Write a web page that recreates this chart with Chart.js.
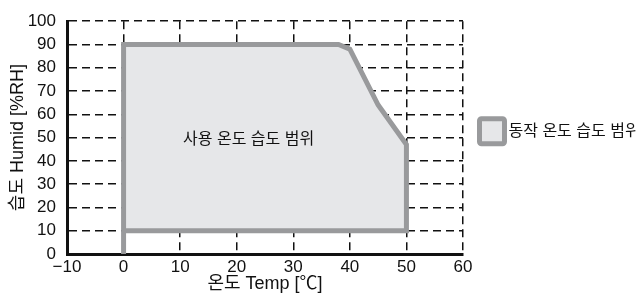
<!DOCTYPE html>
<html>
<head>
<meta charset="utf-8">
<script src="https://cdn.jsdelivr.net/npm/chart.js@4/dist/chart.umd.min.js"></script>
<style>
html,body{margin:0;padding:0;background:#fff;}
#wrap{width:636px;height:295px;position:relative;}
</style>
</head>
<body>
<div id="wrap"><canvas id="c" width="636" height="295"></canvas></div>
<script>
// Outline of the operating range (temperature °C, humidity %RH)
const outlineTemp  = [0, 0, 38, 40, 45, 50, 50, 0];
const outlineHumid = [0, 90, 90, 88, 64, 47, 10, 10];
// Upper boundary of the filled area (filled down to 10 %RH)
const fillTemp  = [0, 38, 40, 45, 50];
const fillHumid = [90, 90, 88, 64, 47];
const fillBase = 10;
// Axes
const xTicks = [-10, 0, 10, 20, 30, 40, 50, 60];
const yTicks = [0, 10, 20, 30, 40, 50, 60, 70, 80, 90, 100];
const xTitle = '온도 Temp [℃]';
const yTitle = '습도 Humid [%RH]';
const areaLabel = '사용 온도 습도 범위';
const legendLabel = '동작 온도 습도 범위';

const FONT = "'Liberation Sans', 'Noto Sans CJK KR', sans-serif";
const TEXT = '#111';
const BORDER_GRAY = '#999a9c';
const FILL_GRAY = '#e6e7e9';

const toPts = (xs, ys) => xs.map((x, i) => ({x, y: ys[i]}));

const overlay = {
  id: 'overlay',
  afterDatasetsDraw(chart) {
    const {ctx, chartArea, scales} = chart;
    ctx.save();
    // area label
    ctx.font = "16px " + FONT;
    ctx.fillStyle = TEXT;
    ctx.textAlign = 'center';
    ctx.textBaseline = 'middle';
    ctx.fillText(areaLabel, scales.x.getPixelForValue(22.1), scales.y.getPixelForValue(49.3));
    // legend
    const bx = chartArea.right + 16.5, by = chartArea.top + 97.5, bs = 25;
    ctx.fillStyle = FILL_GRAY;
    ctx.strokeStyle = BORDER_GRAY;
    ctx.lineWidth = 5;
    ctx.beginPath();
    if (ctx.roundRect) ctx.roundRect(bx, by, bs, bs, 2); else ctx.rect(bx, by, bs, bs);
    ctx.fill();
    ctx.stroke();
    ctx.font = "16px " + FONT;
    ctx.fillStyle = TEXT;
    ctx.textAlign = 'left';
    ctx.fillText(legendLabel, bx + bs + 4, by + bs / 2);
    ctx.restore();
  }
};

new Chart(document.getElementById('c'), {
  type: 'line',
  data: {
    datasets: [
      {
        label: 'outline',
        data: toPts(outlineTemp, outlineHumid),
        borderColor: BORDER_GRAY,
        borderWidth: 5,
        pointRadius: 0,
        fill: false,
        tension: 0,
        order: 0
      },
      {
        label: 'area',
        data: toPts(fillTemp, fillHumid),
        borderWidth: 0,
        borderColor: 'rgba(0,0,0,0)',
        backgroundColor: FILL_GRAY,
        pointRadius: 0,
        fill: {value: fillBase},
        tension: 0,
        order: 1
      }
    ]
  },
  options: {
    responsive: false,
    animation: false,
    devicePixelRatio: 1,
    layout: {padding: {top: 12, right: 173, left: 0, bottom: 0}},
    plugins: {legend: {display: false}, tooltip: {enabled: false}},
    scales: {
      x: {
        type: 'linear',
        min: xTicks[0], max: xTicks[xTicks.length - 1],
        afterBuildTicks: s => { s.ticks = xTicks.map(v => ({value: v})); },
        afterFit: s => { s.height = 41; },
        ticks: {
          font: {family: FONT, size: 17, lineHeight: 1}, color: TEXT, padding: 5,
          maxRotation: 0, autoSkip: false,
          callback: v => String(v).replace('-', '−')
        },
        grid: {color: '#111', lineWidth: 1.5, drawTicks: false},
        border: {color: '#111', width: 3, dash: [8, 5]},
        title: {display: true, text: xTitle, font: {family: FONT, size: 18, lineHeight: 1}, color: TEXT, padding: {top: 2, bottom: 2}}
      },
      y: {
        type: 'linear',
        min: yTicks[0], max: yTicks[yTicks.length - 1],
        afterBuildTicks: s => { s.ticks = yTicks.map(v => ({value: v})); },
        afterFit: s => { s.width = 67; },
        ticks: {font: {family: FONT, size: 17}, color: TEXT, padding: 11, autoSkip: false},
        grid: {color: '#111', lineWidth: 1.5, drawTicks: false},
        border: {color: '#111', width: 3, dash: [8, 5]},
        title: {display: true, text: yTitle, font: {family: FONT, size: 18, lineHeight: 1}, color: TEXT, padding: {top: 9, bottom: 4}}
      }
    }
  },
  plugins: [overlay]
});
</script>
</body>
</html>
